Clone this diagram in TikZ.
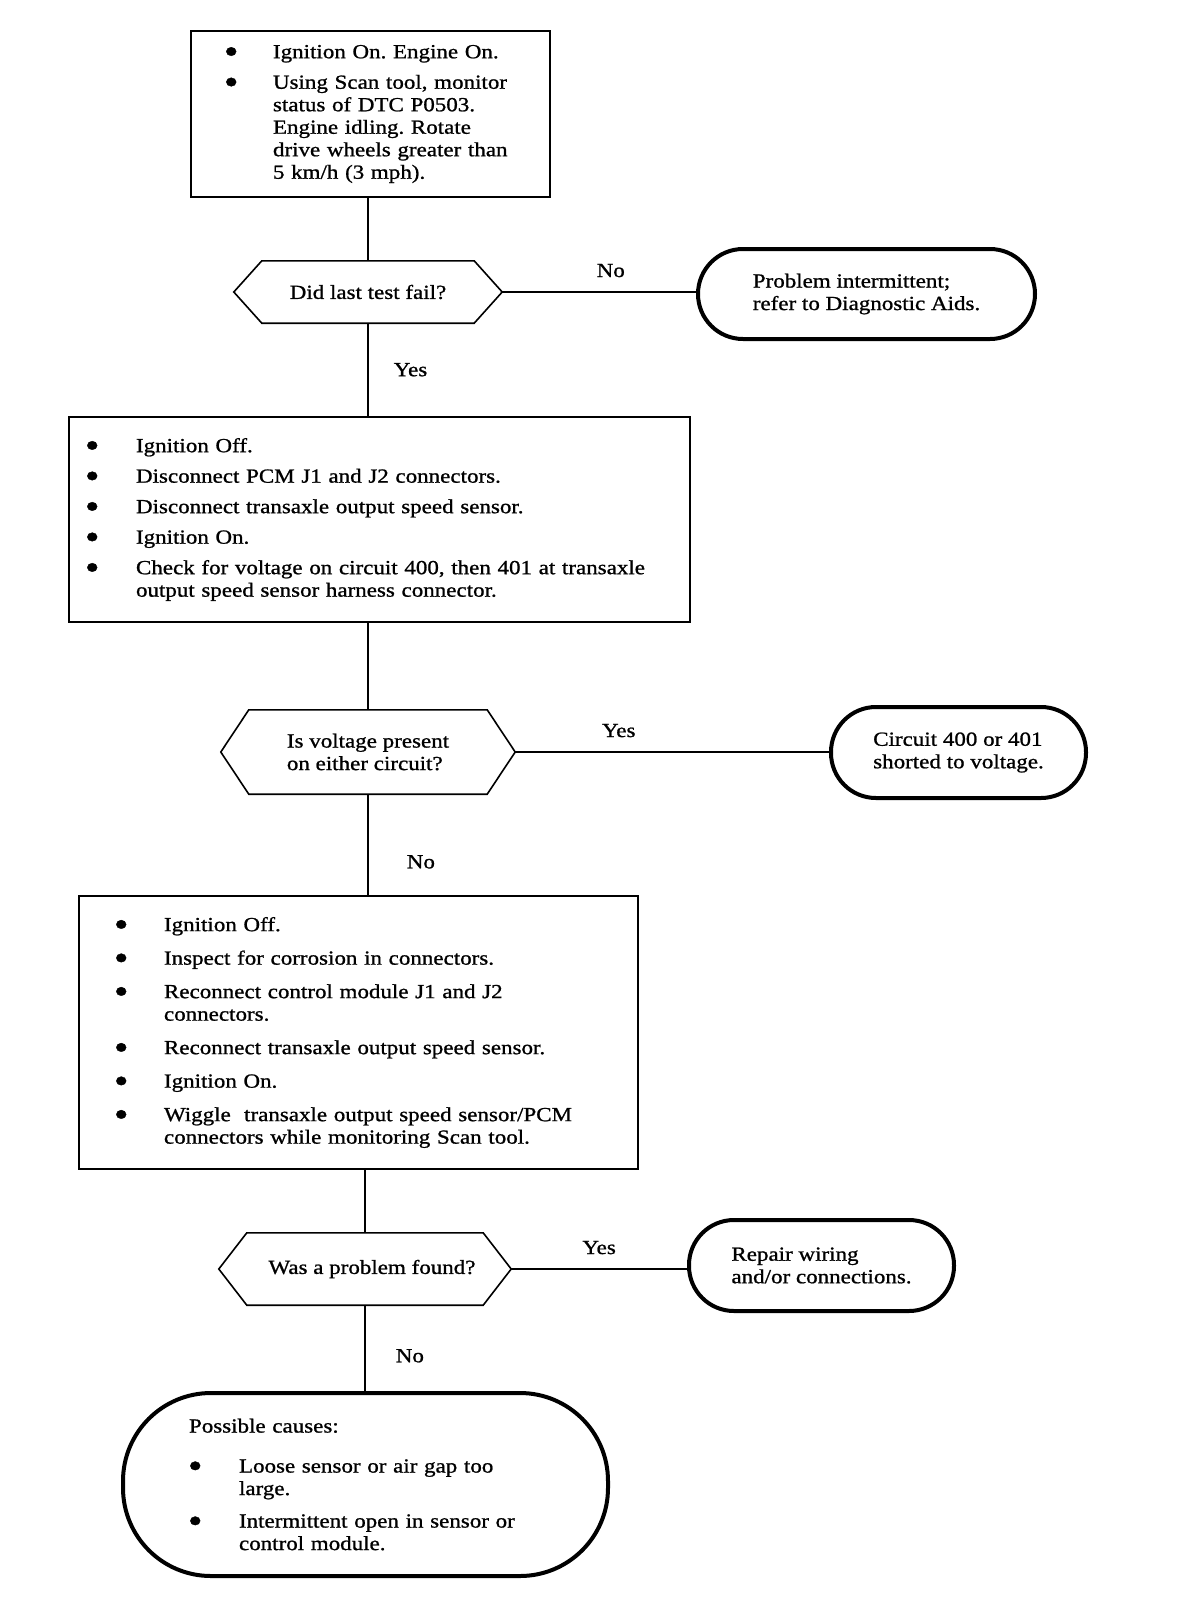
\documentclass[tikz,border=0pt]{standalone}
\usepackage{fontspec}
\setmainfont{Liberation Serif}[FakeStretch=1.15, FakeBold=1]
\usepackage{graphicx}
\usetikzlibrary{positioning}

% bullet and one bulleted entry: {bullet offset}{text offset}{text}
\newcommand{\bdot}{\smash{\raisebox{-0.26em}{\scalebox{1.8}{\textbullet}}}}
\newcommand{\bpt}[3]{\noindent\hangindent=#2\hangafter=1\hspace*{#1}%
  \makebox[\dimexpr#2-#1\relax][l]{\bdot}#3\par}

\begin{document}
\begin{tikzpicture}[
    x=1pt, y=-1pt,
    every node/.style={font=\fontsize{20}{22.5}\selectfont\frenchspacing},
    stepbox/.style={rectangle, draw, line width=1.6pt, inner xsep=0pt,
        inner ysep=0pt, align=left},
    endbox/.style={rectangle, draw, line width=4pt, align=left},
    decision/.style={rectangle, align=left, inner sep=0pt,
        append after command={\pgfextra{\draw[line width=1.6pt, line join=miter]
            ([xshift=28pt]\tikzlastnode.north west)
            -- ([xshift=-28pt]\tikzlastnode.north east) -- (\tikzlastnode.east)
            -- ([xshift=-28pt]\tikzlastnode.south east)
            -- ([xshift=28pt]\tikzlastnode.south west) -- (\tikzlastnode.west)
            -- cycle;}}},
    answer/.style={inner sep=2pt},
    link/.style={line width=1.6pt}
]
\useasboundingbox (0,0) rectangle (1200,1604);

% first check
\node[stepbox, text width=359pt, minimum height=166pt] (monitor) at (370.5,114) {%
  \setlength\parskip{8pt}%
  \bpt{33pt}{82pt}{Ignition On. Engine On.}%
  \bpt{33pt}{82pt}{Using Scan tool, monitor\newline status of DTC P0503.\newline
    Engine idling. Rotate\newline drive wheels greater than\newline 5 km/h (3 mph).}};

\node[decision, minimum width=268pt, minimum height=62pt] (fail) at (368,292)
  {Did last test fail?};
\node[endbox, rounded corners=45pt, minimum width=337pt, minimum height=90pt]
  (intermit) at (866.5,294) {Problem intermittent;\\refer to Diagnostic Aids.};

\draw[link] (monitor.south -| fail.north) -- (fail.north);
\draw[link] (fail.east) -- (fail.east -| intermit.west)
  node[answer, pos=0.56, above=12pt] (failno) {No};

% voltage check
\node[stepbox, text width=621pt, minimum height=205pt] (volt) at (379.5,519.5) {%
  \setlength\parskip{8pt}%
  \bpt{16pt}{67pt}{Ignition Off.}%
  \bpt{16pt}{67pt}{Disconnect PCM J1 and J2 connectors.}%
  \bpt{16pt}{67pt}{Disconnect transaxle output speed sensor.}%
  \bpt{16pt}{67pt}{Ignition On.}%
  \bpt{16pt}{67pt}{Check for voltage on circuit 400, then 401 at transaxle\newline
    output speed sensor harness connector.}};

\draw[link] (fail.south) -- (fail.south |- volt.north)
  node[answer, midway, right=23pt] (failyes) {Yes};

\node[decision, minimum width=294pt, minimum height=84pt] (present) at (368,752)
  {Is voltage present\\on either circuit?};
\node[endbox, rounded corners=45pt, minimum width=255pt, minimum height=91pt]
  (shorted) at (958.5,752.5) {Circuit 400 or 401\\shorted to voltage.};

\draw[link] (volt.south -| present.north) -- (present.north);
\draw[link] (present.east) -- (present.east -| shorted.west)
  node[answer, pos=0.33, above=12pt] (presentyes) {Yes};

% wiggle test
\node[stepbox, text width=559pt, minimum height=273pt] (wiggle) at (358.5,1032.5) {%
  \setlength\parskip{11pt}%
  \bpt{35pt}{85pt}{Ignition Off.}%
  \bpt{35pt}{85pt}{Inspect for corrosion in connectors.}%
  \bpt{35pt}{85pt}{Reconnect control module J1 and J2\newline connectors.}%
  \bpt{35pt}{85pt}{Reconnect transaxle output speed sensor.}%
  \bpt{35pt}{85pt}{Ignition On.}%
  \bpt{35pt}{85pt}{Wiggle\ \ transaxle output speed sensor/PCM\newline
    connectors while monitoring Scan tool.}};

\draw[link] (present.south) -- (present.south |- wiggle.north)
  node[answer, pos=0.67, right=36pt] (presentno) {No};

\node[decision, minimum width=292pt, minimum height=72pt] (found) at (365,1269)
  {\hspace*{14pt}Was a problem found?};
\node[endbox, rounded corners=45pt, minimum width=265pt, minimum height=91pt]
  (repair) at (821.5,1265.5) {Repair wiring\\and/or connections.};

\draw[link] (wiggle.south -| found.north) -- (found.north);
\draw[link] (found.east) -- (found.east -| repair.west)
  node[answer, pos=0.5, above=12pt] (foundyes) {Yes};

% causes
\node[endbox, rounded corners=88pt, text width=485pt, inner xsep=0pt,
  minimum height=183pt] (causes) at (365.5,1484.5) {%
  \setlength\parskip{10pt}%
  \noindent\hspace*{66pt}Possible causes:\par\vspace{7.5pt}%
  \bpt{65pt}{116pt}{Loose sensor or air gap too\newline large.}%
  \bpt{65pt}{116pt}{Intermittent open in sensor or\newline control module.}};

\draw[link] (found.south) -- (found.south |- causes.north)
  node[answer, pos=0.59, right=28pt] (foundno) {No};

\end{tikzpicture}
\end{document}
